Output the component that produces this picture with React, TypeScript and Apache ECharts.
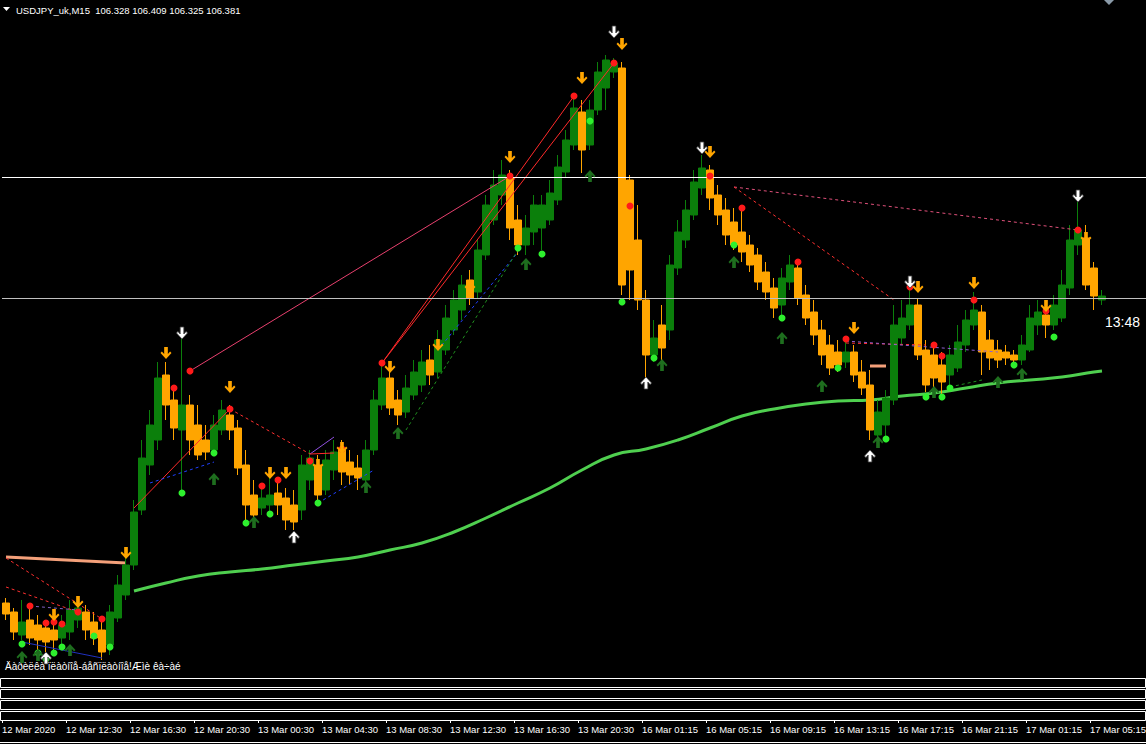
import React, { useEffect, useRef } from 'react';
import * as echarts from 'echarts';

const Y_MIN = 102.60;
const Y_MAX = 109.36;
const CATEGORY_COUNT = 143;
const AXIS_CATEGORY_COUNT = 137;

// Heiken-Ashi style 30-min candles: [open, close, low, high]
const CANDLES: number[][] = [
  [103.33,103.22,103.16,103.38],[103.24,103.04,102.96,103.28],[103.01,103.14,102.96,103.36],[103.16,102.98,102.91,103.30],
  [103.11,102.96,102.86,103.21],[103.08,102.94,102.84,103.16],[103.06,102.96,102.86,103.18],[102.98,103.11,102.86,103.21],
  [103.04,103.26,102.96,103.36],[103.16,103.28,103.08,103.38],[103.24,103.06,102.96,103.31],[103.14,102.98,102.91,103.24],
  [103.06,102.84,102.76,103.16],[102.91,103.24,102.81,103.31],[103.18,103.51,103.14,103.61],[103.41,103.71,103.36,103.81],
  [103.71,104.24,103.66,104.36],[104.26,104.78,104.21,104.96],[104.71,105.11,104.61,105.26],[104.96,105.58,104.86,105.74],
  [105.61,105.31,105.16,105.74],[105.36,105.08,104.96,105.51],[105.06,105.31,104.43,105.99],[105.31,104.96,104.81,105.41],
  [105.11,104.81,104.76,105.31],[104.96,104.84,104.76,105.11],[104.86,105.11,104.81,105.21],[105.06,105.26,105.01,105.36],
  [105.21,105.06,104.96,105.31],[105.08,104.68,104.61,105.16],[104.71,104.31,104.11,104.86],[104.41,104.21,104.11,104.56],
  [104.28,104.38,104.21,104.51],[104.31,104.41,104.21,104.58],[104.43,104.31,104.21,104.56],[104.38,104.16,104.06,104.48],
  [104.31,104.14,104.06,104.46],[104.26,104.71,104.16,104.81],[104.56,104.78,104.46,104.86],[104.71,104.41,104.31,104.81],
  [104.46,104.76,104.41,104.86],[104.66,104.84,104.56,104.96],[104.86,104.64,104.51,104.96],[104.74,104.61,104.51,104.86],
  [104.68,104.58,104.46,104.81],[104.56,104.86,104.46,104.96],[104.86,105.36,104.81,105.46],[105.31,105.58,105.26,105.76],
  [105.58,105.28,105.21,105.68],[105.36,105.21,105.11,105.46],[105.24,105.48,105.18,105.61],[105.41,105.64,105.36,105.76],
  [105.51,105.74,105.44,105.86],[105.76,105.61,105.51,105.91],[105.64,105.96,105.58,106.06],[105.86,106.18,105.81,106.31],
  [106.06,106.36,106.01,106.46],[106.26,106.51,106.16,106.61],[106.56,106.38,106.31,106.66],[106.44,106.86,106.38,106.96],
  [106.81,107.31,106.76,107.41],[107.16,107.51,107.11,107.66],[107.41,107.61,107.31,107.76],[107.58,107.08,106.96,107.66],
  [107.16,106.91,106.81,107.31],[106.91,107.08,106.81,107.21],[107.04,107.31,106.91,107.41],[107.08,107.31,106.86,107.41],
  [107.16,107.43,107.11,107.56],[107.36,107.69,107.31,107.81],[107.64,107.96,107.58,108.06],[107.91,108.28,107.86,108.41],
  [108.24,107.86,107.63,108.36],[107.91,108.26,107.86,108.36],[108.26,108.64,108.21,108.74],[108.48,108.76,108.26,108.81],
  [108.64,108.73,108.58,108.78],[108.68,106.51,106.41,108.74],[107.56,106.66,106.36,107.61],[106.96,106.36,106.26,107.31],
  [106.36,105.81,105.56,106.46],[105.81,105.98,105.74,106.16],[106.11,105.88,105.76,106.31],[106.06,106.71,105.96,106.81],
  [106.68,107.04,106.61,107.16],[106.96,107.26,106.88,107.36],[107.21,107.54,107.16,107.66],[107.48,107.68,107.41,107.81],
  [107.66,107.38,107.26,107.71],[107.41,107.21,107.11,107.51],[107.26,107.01,106.91,107.38],[107.14,106.91,106.86,107.28],
  [107.04,106.84,106.74,107.26],[106.91,106.71,106.64,107.01],[106.81,106.54,106.46,106.88],[106.64,106.44,106.36,106.74],
  [106.48,106.28,106.18,106.58],[106.31,106.58,106.21,106.68],[106.54,106.71,106.46,106.81],[106.68,106.38,106.31,106.76],
  [106.41,106.18,106.11,106.51],[106.24,106.01,105.91,106.36],[106.06,105.81,105.71,106.16],[105.91,105.68,105.61,106.01],
  [105.84,105.71,105.64,105.96],[105.74,105.84,105.68,105.97],[105.84,105.61,105.54,105.91],[105.64,105.48,105.41,105.76],
  [105.51,105.06,104.96,105.66],[105.01,105.24,104.91,105.36],[105.11,105.38,104.96,105.46],[105.36,106.11,105.31,106.31],
  [105.98,106.18,105.91,106.36],[106.11,106.31,106.06,106.49],[106.31,105.81,105.76,106.38],[105.86,105.51,105.44,105.96],
  [105.81,105.58,105.46,105.91],[105.71,105.54,105.41,105.84],[105.61,105.81,105.48,105.91],[105.68,105.94,105.64,106.11],
  [105.91,106.16,105.84,106.26],[106.11,106.26,106.06,106.44],[106.24,105.84,105.61,106.31],[105.96,105.78,105.66,106.06],
  [105.86,105.76,105.68,105.96],[105.84,105.78,105.71,105.91],[105.81,105.76,105.70,105.86],[105.76,105.91,105.71,106.01],
  [105.86,106.18,105.84,106.31],[106.11,106.24,106.01,106.36],[106.21,106.11,105.98,106.31],[106.11,106.31,106.06,106.41],
  [106.18,106.51,106.14,106.66],[106.48,106.96,106.41,107.11],[106.91,107.06,106.81,107.34],[106.98,106.51,106.46,107.11],
  [106.68,106.40,106.26,106.74],[106.36,106.40,106.31,106.46],
];

// moving average (candle index, price)
const MA_POINTS: number[][] = [
  [16,103.45],[20,103.53],[24,103.60],[28,103.64],[32,103.67],[36,103.71],[40,103.75],[44,103.79],
  [48,103.86],[52,103.93],[56,104.04],[60,104.18],[64,104.33],[68,104.48],[72,104.66],[76,104.81],
  [80,104.87],[84,104.96],[88,105.08],[92,105.20],[96,105.27],[100,105.32],[104,105.35],[108,105.36],
  [112,105.40],[116,105.43],[120,105.48],[124,105.53],[128,105.56],[132,105.59],[136,105.64],[137,105.65],
];
const SALMON_POINTS: number[][] = [[0,103.79],[15,103.73]];
const SALMON_SHORT: number[][] = [[108,105.70],[110,105.70]];

const RED_DOTS: number[][] = [
  [3,103.30],[5,103.13],[6,103.14],[7,103.12],[9,103.24],[12,103.17],[21,105.48],[23,105.65],[28,105.27],
  [32,104.50],[34,104.56],[38,104.75],[42,104.87],[47,105.73],[63,107.60],[71,108.40],[76,108.73],[78,107.30],
  [88,107.60],[92,107.28],[99,106.74],[105,105.97],[113,106.49],[116,105.91],[117,105.80],[121,106.36],[130,106.25],[134,107.06],
];
const GREEN_DOTS: number[][] = [
  [2,102.92],[4,102.83],[5,102.77],[6,102.83],[7,102.89],[11,103.00],[13,102.89],[22,104.43],[26,104.83],
  [30,104.13],[33,104.22],[39,104.33],[64,106.88],[67,106.82],[73,108.15],[77,106.34],[81,105.78],[91,106.91],
  [97,106.18],[104,105.68],[110,104.97],[115,105.39],[117,105.39],[118,105.48],[126,105.71],[131,105.99],
];
const ORANGE_DOWN: number[][] = [
  [6,103.21],[9,103.34],[15,103.83],[20,105.83],[28,105.49],[33,104.63],[35,104.63],[39,104.71],[42,104.88],
  [48,105.69],[54,105.91],[58,106.49],[63,107.79],[72,108.58],[77,108.92],[88,107.84],[106,106.08],[114,106.49],
  [121,106.53],[130,106.30],[135,106.98],
];
const WHITE_DOWN: number[][] = [[22,106.03],[76,109.04],[87,107.88],[113,106.54],[134,107.40]];
const WHITE_UP: number[][] = [[5,102.78],[36,103.99],[80,105.53],[108,104.80]];
const DKGREEN_UP: number[][] = [
  [2,102.79],[4,102.81],[8,102.86],[26,104.57],[31,104.14],[45,104.49],[49,105.03],[65,106.72],[73,107.60],
  [82,105.71],[91,106.74],[97,105.98],[102,105.50],[109,104.94],[116,105.44],[124,105.54],[127,105.62],
];

type Seg = { pts: number[][]; color: string; dash?: boolean; width?: number };
const TREND_LINES: Seg[] = [
  { pts: [[16,104.28],[28,105.27]], color: '#ff2a2a' },
  { pts: [[23,105.65],[63,107.60]], color: '#e8406e' },
  { pts: [[47,105.73],[71,108.40]], color: '#ff2a2a' },
  { pts: [[47,105.73],[76,108.73]], color: '#ff2a2a' },
  { pts: [[0,103.78],[12,103.17]], color: '#ff3030', dash: true },
  { pts: [[0,103.49],[9,103.24]], color: '#ff3030', dash: true },
  { pts: [[28,105.27],[38,104.82]], color: '#ff3030', dash: true },
  { pts: [[91,107.49],[134,107.06]], color: '#e0507a', dash: true },
  { pts: [[91,107.49],[111,106.36]], color: '#ff3030', dash: true },
  { pts: [[105,105.93],[115,105.91]], color: '#ff3030', dash: true },
  { pts: [[105,105.95],[124,105.84]], color: '#9060d0', dash: true },
  { pts: [[3,103.30],[9,103.26]], color: '#8060c0', dash: true },
  { pts: [[18,104.53],[26,104.74]], color: '#2040ff', dash: true },
  { pts: [[39,104.33],[46,104.66]], color: '#2040ff', dash: true },
  { pts: [[54,105.86],[64,106.84]], color: '#2040ff', dash: true },
  { pts: [[50,105.06],[64,106.86]], color: '#1f8f1f', dash: true },
  { pts: [[118,105.49],[122,105.56]], color: '#1f8f1f', dash: true },
  { pts: [[2,102.94],[12,102.78]], color: '#2030c0' },
  { pts: [[38,104.82],[41,104.99]], color: '#9050e0' },
  { pts: [[38,104.82],[41,104.83]], color: '#ff2a2a' },
];

const H_LINES = [
  { value: 107.59, color: '#ffffff' },
  { value: 106.38, color: '#c0c0c0' },
];

const TITLE = 'USDJPY_uk,M15  106.328 106.409 106.325 106.381';
const FOOT_TEXT = 'Äàðèëêà ïëàòíîå-áåñïëàòíîå!Æìè êà÷àé';
const TIMER = '13:48';
const FIRST_LABEL = '12 Mar 2020';

function buildCategories(): string[] {
  const out: string[] = [];
  const pad = (n: number) => (n < 10 ? '0' + n : '' + n);
  for (let j = 0; j < CATEGORY_COUNT; j++) {
    let day: number, min: number;
    if (j < 79) {
      const t = 510 + 30 * j;
      day = 12 + Math.floor(t / 1440);
      min = t % 1440;
    } else {
      const t = 45 + 30 * (j - 79);
      day = 16 + Math.floor(t / 1440);
      min = t % 1440;
    }
    out.push(`${day} Mar ${pad(Math.floor(min / 60))}:${pad(min % 60)}`);
  }
  return out;
}

const DOWN_ARROW = 'path://M4,0L8,0L8,7L10.5,4.5L12,6L6,12L0,6L1.5,4.5L4,7Z';
const UP_ARROW = 'path://M6,0L12,6L10.5,7.5L8,5L8,12L4,12L4,5L1.5,7.5L0,6Z';
const FONT = "'Liberation Sans', Arial, sans-serif";

export default function App() {
  const ref = useRef<HTMLDivElement>(null);
  useEffect(() => {
    if (!ref.current) return;
    const chart = echarts.init(ref.current, undefined, { renderer: 'svg' });
    const cats = buildCategories();
    const axisCats = cats.slice(0, AXIS_CATEGORY_COUNT);

    const scatter = (data: number[][], symbol: string, size: any, color: string, border?: string, z = 5) => ({
      type: 'scatter', xAxisIndex: 0, yAxisIndex: 0, data, symbol, symbolSize: size, z,
      itemStyle: { color, borderColor: border || color, borderWidth: border ? 0.8 : 0, opacity: 1 },
      silent: true,
    });

    const lineSeries: any[] = TREND_LINES.map((s) => ({
      type: 'line', xAxisIndex: 0, yAxisIndex: 0, data: s.pts, symbol: 'none', z: 4, silent: true,
      lineStyle: { color: s.color, width: s.width || 1, type: s.dash ? [3, 3] : 'solid' },
    }));

    const subRects = [678, 689, 700, 711].map((y) => ({
      type: 'rect', shape: { x: 0.5, y: y + 0.5, width: 1145, height: 9 },
      style: { fill: 'none', stroke: '#ffffff', lineWidth: 1 }, silent: true,
    }));

    chart.setOption({
      animation: false,
      backgroundColor: '#000000',
      grid: [
        { left: 2, top: 0, width: 1144, height: 676, containLabel: false, outerBoundsMode: 'none' },
        { left: 2, top: 719, width: 8 * (AXIS_CATEGORY_COUNT - 1), height: 1, containLabel: false, outerBoundsMode: 'none' },
      ],
      xAxis: [
        { type: 'category', gridIndex: 0, data: cats, boundaryGap: true, show: false },
        {
          type: 'category', gridIndex: 1, data: axisCats, boundaryGap: false, position: 'bottom',
          axisLine: { show: true, lineStyle: { color: '#ffffff', width: 1 } },
          axisTick: { show: true, interval: 7, length: 3, lineStyle: { color: '#ffffff' } },
          axisLabel: {
            interval: 7, color: '#ffffff', fontSize: 9.5, fontFamily: FONT, align: 'left', margin: 4,
            showMaxLabel: true, showMinLabel: true, hideOverlap: false,
            formatter: (v: string, i: number) => (i === 0 ? FIRST_LABEL : v),
          },
          splitLine: { show: false },
        },
      ],
      yAxis: [
        { type: 'value', gridIndex: 0, min: Y_MIN, max: Y_MAX, show: false, splitLine: { show: false } },
        { type: 'value', gridIndex: 1, show: false, splitLine: { show: false } },
      ],
      series: [
        {
          type: 'line', xAxisIndex: 0, yAxisIndex: 0, data: MA_POINTS, symbol: 'none', smooth: true, z: 2,
          lineStyle: { color: '#4fcf4f', width: 3 }, silent: true,
        },
        {
          type: 'line', xAxisIndex: 0, yAxisIndex: 0, data: SALMON_POINTS, symbol: 'none', z: 2,
          lineStyle: { color: '#f4a07a', width: 3 }, silent: true,
        },
        {
          type: 'line', xAxisIndex: 0, yAxisIndex: 0, data: SALMON_SHORT, symbol: 'none', z: 4,
          lineStyle: { color: '#f4a07a', width: 3 }, silent: true,
        },
        {
          type: 'candlestick', xAxisIndex: 0, yAxisIndex: 0, data: CANDLES, barWidth: 7, z: 3, silent: true,
          itemStyle: { color: '#0b7f0b', color0: '#ffa500', borderColor: '#0b7f0b', borderColor0: '#ffa500', borderWidth: 1 },
          markLine: {
            silent: true, symbol: 'none', label: { show: false },
            data: H_LINES.map((h) => ({ yAxis: h.value, lineStyle: { color: h.color, width: 1, type: 'solid' } })),
          },
        },
        ...lineSeries,
        scatter(RED_DOTS, 'circle', 7, '#ff1a1a'),
        scatter(GREEN_DOTS, 'circle', 7, '#2ef02e'),
        scatter(ORANGE_DOWN, DOWN_ARROW, [11, 12], '#ffa500'),
        scatter(WHITE_DOWN, DOWN_ARROW, [11, 12], '#ffffff', '#444444', 6),
        scatter(WHITE_UP, UP_ARROW, [11, 12], '#ffffff', '#444444', 6),
        scatter(DKGREEN_UP, UP_ARROW, [11, 12], '#1e6e1e'),
      ],
      graphic: [
        { type: 'polygon', shape: { points: [[3, 7], [10, 7], [6.5, 11]] }, style: { fill: '#ffffff' }, silent: true },
        { type: 'text', x: 16, y: 10, style: { text: TITLE, fill: '#ffffff', fontSize: 9.5, fontFamily: FONT, verticalAlign: 'middle' }, silent: true },
        { type: 'polygon', shape: { points: [[1104, 0], [1114, 0], [1109, 5]] }, style: { fill: '#8a9aa8' }, silent: true },
        { type: 'text', x: 1105, y: 322, style: { text: TIMER, fill: '#ffffff', fontSize: 14, fontFamily: FONT, verticalAlign: 'middle' }, silent: true },
        { type: 'text', x: 5, y: 666, style: { text: FOOT_TEXT, fill: '#ffffff', fontSize: 10, fontFamily: FONT, verticalAlign: 'middle' }, silent: true },
        ...subRects,
        { type: 'line', shape: { x1: 0, y1: 742.5, x2: 1146, y2: 742.5 }, style: { stroke: '#ffffff', lineWidth: 1 }, silent: true },
      ],
    });
    return () => chart.dispose();
  }, []);
  return (
    <div style={{ position: 'fixed', left: 0, top: 0, width: 1146, height: 744, background: '#000' }}>
      <div ref={ref} style={{ width: 1146, height: 744 }} />
    </div>
  );
}
